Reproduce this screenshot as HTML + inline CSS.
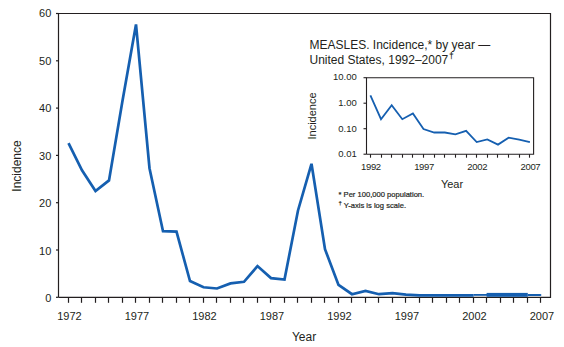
<!DOCTYPE html>
<html><head><meta charset="utf-8"><style>
html,body{margin:0;padding:0;background:#fff;}
body{width:564px;height:347px;overflow:hidden;}
svg{display:block;font-family:"Liberation Sans",sans-serif;fill:#231f20;}
</style></head><body>
<svg width="564" height="347" viewBox="0 0 564 347">
<polyline points="58.5,297.3 58.5,13.5 550.5,13.5 550.5,297.3 58.5,297.3" fill="none" stroke="#231f20" stroke-width="1.2"/>
<line x1="56.0" y1="297.3" x2="58.5" y2="297.3" stroke="#231f20" stroke-width="1.2"/>
<text x="51.3" y="302.1" text-anchor="end" font-size="11">0</text>
<line x1="56.0" y1="250.0" x2="58.5" y2="250.0" stroke="#231f20" stroke-width="1.2"/>
<text x="51.3" y="254.6" text-anchor="end" font-size="11">10</text>
<line x1="56.0" y1="202.7" x2="58.5" y2="202.7" stroke="#231f20" stroke-width="1.2"/>
<text x="51.3" y="207.1" text-anchor="end" font-size="11">20</text>
<line x1="56.0" y1="155.4" x2="58.5" y2="155.4" stroke="#231f20" stroke-width="1.2"/>
<text x="51.3" y="159.6" text-anchor="end" font-size="11">30</text>
<line x1="56.0" y1="108.1" x2="58.5" y2="108.1" stroke="#231f20" stroke-width="1.2"/>
<text x="51.3" y="112.0" text-anchor="end" font-size="11">40</text>
<line x1="56.0" y1="60.8" x2="58.5" y2="60.8" stroke="#231f20" stroke-width="1.2"/>
<text x="51.3" y="64.5" text-anchor="end" font-size="11">50</text>
<line x1="56.0" y1="13.5" x2="58.5" y2="13.5" stroke="#231f20" stroke-width="1.2"/>
<text x="51.3" y="17.0" text-anchor="end" font-size="11">60</text>
<line x1="68.5" y1="297.3" x2="68.5" y2="302.8" stroke="#231f20" stroke-width="1.2"/>
<line x1="81.5" y1="297.3" x2="81.5" y2="302.8" stroke="#231f20" stroke-width="1.2"/>
<line x1="95.5" y1="297.3" x2="95.5" y2="302.8" stroke="#231f20" stroke-width="1.2"/>
<line x1="108.5" y1="297.3" x2="108.5" y2="302.8" stroke="#231f20" stroke-width="1.2"/>
<line x1="122.5" y1="297.3" x2="122.5" y2="302.8" stroke="#231f20" stroke-width="1.2"/>
<line x1="135.5" y1="297.3" x2="135.5" y2="302.8" stroke="#231f20" stroke-width="1.2"/>
<line x1="149.5" y1="297.3" x2="149.5" y2="302.8" stroke="#231f20" stroke-width="1.2"/>
<line x1="162.5" y1="297.3" x2="162.5" y2="302.8" stroke="#231f20" stroke-width="1.2"/>
<line x1="176.5" y1="297.3" x2="176.5" y2="302.8" stroke="#231f20" stroke-width="1.2"/>
<line x1="189.5" y1="297.3" x2="189.5" y2="302.8" stroke="#231f20" stroke-width="1.2"/>
<line x1="203.5" y1="297.3" x2="203.5" y2="302.8" stroke="#231f20" stroke-width="1.2"/>
<line x1="216.5" y1="297.3" x2="216.5" y2="302.8" stroke="#231f20" stroke-width="1.2"/>
<line x1="230.5" y1="297.3" x2="230.5" y2="302.8" stroke="#231f20" stroke-width="1.2"/>
<line x1="243.5" y1="297.3" x2="243.5" y2="302.8" stroke="#231f20" stroke-width="1.2"/>
<line x1="257.5" y1="297.3" x2="257.5" y2="302.8" stroke="#231f20" stroke-width="1.2"/>
<line x1="270.5" y1="297.3" x2="270.5" y2="302.8" stroke="#231f20" stroke-width="1.2"/>
<line x1="284.5" y1="297.3" x2="284.5" y2="302.8" stroke="#231f20" stroke-width="1.2"/>
<line x1="297.5" y1="297.3" x2="297.5" y2="302.8" stroke="#231f20" stroke-width="1.2"/>
<line x1="311.5" y1="297.3" x2="311.5" y2="302.8" stroke="#231f20" stroke-width="1.2"/>
<line x1="324.5" y1="297.3" x2="324.5" y2="302.8" stroke="#231f20" stroke-width="1.2"/>
<line x1="338.5" y1="297.3" x2="338.5" y2="302.8" stroke="#231f20" stroke-width="1.2"/>
<line x1="351.5" y1="297.3" x2="351.5" y2="302.8" stroke="#231f20" stroke-width="1.2"/>
<line x1="365.5" y1="297.3" x2="365.5" y2="302.8" stroke="#231f20" stroke-width="1.2"/>
<line x1="378.5" y1="297.3" x2="378.5" y2="302.8" stroke="#231f20" stroke-width="1.2"/>
<line x1="392.5" y1="297.3" x2="392.5" y2="302.8" stroke="#231f20" stroke-width="1.2"/>
<line x1="405.5" y1="297.3" x2="405.5" y2="302.8" stroke="#231f20" stroke-width="1.2"/>
<line x1="419.5" y1="297.3" x2="419.5" y2="302.8" stroke="#231f20" stroke-width="1.2"/>
<line x1="432.5" y1="297.3" x2="432.5" y2="302.8" stroke="#231f20" stroke-width="1.2"/>
<line x1="446.5" y1="297.3" x2="446.5" y2="302.8" stroke="#231f20" stroke-width="1.2"/>
<line x1="459.5" y1="297.3" x2="459.5" y2="302.8" stroke="#231f20" stroke-width="1.2"/>
<line x1="473.5" y1="297.3" x2="473.5" y2="302.8" stroke="#231f20" stroke-width="1.2"/>
<line x1="486.5" y1="297.3" x2="486.5" y2="302.8" stroke="#231f20" stroke-width="1.2"/>
<line x1="500.5" y1="297.3" x2="500.5" y2="302.8" stroke="#231f20" stroke-width="1.2"/>
<line x1="513.5" y1="297.3" x2="513.5" y2="302.8" stroke="#231f20" stroke-width="1.2"/>
<line x1="527.5" y1="297.3" x2="527.5" y2="302.8" stroke="#231f20" stroke-width="1.2"/>
<line x1="540.5" y1="297.3" x2="540.5" y2="302.8" stroke="#231f20" stroke-width="1.2"/>
<text x="69.5" y="320" text-anchor="middle" font-size="11">1972</text>
<text x="137.0" y="320" text-anchor="middle" font-size="11">1977</text>
<text x="204.5" y="320" text-anchor="middle" font-size="11">1982</text>
<text x="272.0" y="320" text-anchor="middle" font-size="11">1987</text>
<text x="339.5" y="320" text-anchor="middle" font-size="11">1992</text>
<text x="407.0" y="320" text-anchor="middle" font-size="11">1997</text>
<text x="474.5" y="320" text-anchor="middle" font-size="11">2002</text>
<text x="542.0" y="320" text-anchor="middle" font-size="11">2007</text>
<polyline points="68.5,143.1 82.0,170.3 95.5,191.0 109.0,180.4 122.5,100.7 136.0,24.4 149.5,168.2 163.0,231.2 176.5,231.6 190.0,281.1 203.5,287.3 217.0,288.5 230.5,283.4 244.0,281.8 257.5,266.1 271.0,278.1 284.5,279.5 298.0,210.5 311.5,163.8 325.0,249.2 338.5,284.9 352.0,294.2 365.5,290.9 379.0,294.2 392.5,293.2 406.0,294.6 419.5,295.4 473.6,295.4" fill="none" stroke="#155fb0" stroke-width="2.7" stroke-linejoin="miter" stroke-miterlimit="3" stroke-linecap="butt"/>
<rect x="473.6" y="294.0" width="13.4" height="1.8" fill="#155fb0"/>
<rect x="486.6" y="292.9" width="41.2" height="3.9" fill="#155fb0"/>
<path d="M527.8,294 L540.6,294 L541.6,295 L540.6,296 L527.8,296 Z" fill="#155fb0"/>
<text x="304" y="341" text-anchor="middle" font-size="12">Year</text>
<text transform="translate(21,166) rotate(-90)" text-anchor="middle" font-size="12">Incidence</text>
<polyline points="366.5,154.2 366.5,77.7 533.6,77.7 533.6,154.2 366.5,154.2" fill="none" stroke="#231f20" stroke-width="1.1"/>
<line x1="363.5" y1="154.2" x2="366.5" y2="154.2" stroke="#231f20" stroke-width="1.1"/>
<text x="356.8" y="157.4" text-anchor="end" font-size="9.5">0.01</text>
<line x1="363.5" y1="128.7" x2="366.5" y2="128.7" stroke="#231f20" stroke-width="1.1"/>
<text x="356.8" y="131.9" text-anchor="end" font-size="9.5">0.10</text>
<line x1="363.5" y1="103.2" x2="366.5" y2="103.2" stroke="#231f20" stroke-width="1.1"/>
<text x="356.8" y="106.4" text-anchor="end" font-size="9.5">1.00</text>
<line x1="363.5" y1="77.7" x2="366.5" y2="77.7" stroke="#231f20" stroke-width="1.1"/>
<text x="356.8" y="79.6" text-anchor="end" font-size="9.5">10.00</text>
<line x1="370.5" y1="154.2" x2="370.5" y2="157.7" stroke="#231f20" stroke-width="1.1"/>
<line x1="381.5" y1="154.2" x2="381.5" y2="157.7" stroke="#231f20" stroke-width="1.1"/>
<line x1="391.5" y1="154.2" x2="391.5" y2="157.7" stroke="#231f20" stroke-width="1.1"/>
<line x1="402.5" y1="154.2" x2="402.5" y2="157.7" stroke="#231f20" stroke-width="1.1"/>
<line x1="412.5" y1="154.2" x2="412.5" y2="157.7" stroke="#231f20" stroke-width="1.1"/>
<line x1="423.5" y1="154.2" x2="423.5" y2="157.7" stroke="#231f20" stroke-width="1.1"/>
<line x1="434.5" y1="154.2" x2="434.5" y2="157.7" stroke="#231f20" stroke-width="1.1"/>
<line x1="444.5" y1="154.2" x2="444.5" y2="157.7" stroke="#231f20" stroke-width="1.1"/>
<line x1="455.5" y1="154.2" x2="455.5" y2="157.7" stroke="#231f20" stroke-width="1.1"/>
<line x1="466.5" y1="154.2" x2="466.5" y2="157.7" stroke="#231f20" stroke-width="1.1"/>
<line x1="476.5" y1="154.2" x2="476.5" y2="157.7" stroke="#231f20" stroke-width="1.1"/>
<line x1="487.5" y1="154.2" x2="487.5" y2="157.7" stroke="#231f20" stroke-width="1.1"/>
<line x1="497.5" y1="154.2" x2="497.5" y2="157.7" stroke="#231f20" stroke-width="1.1"/>
<line x1="508.5" y1="154.2" x2="508.5" y2="157.7" stroke="#231f20" stroke-width="1.1"/>
<line x1="519.5" y1="154.2" x2="519.5" y2="157.7" stroke="#231f20" stroke-width="1.1"/>
<line x1="529.5" y1="154.2" x2="529.5" y2="157.7" stroke="#231f20" stroke-width="1.1"/>
<text x="370.9" y="169.6" text-anchor="middle" font-size="9.5" letter-spacing="-0.35">1992</text>
<text x="424.0" y="169.6" text-anchor="middle" font-size="9.5" letter-spacing="-0.35">1997</text>
<text x="477.2" y="169.6" text-anchor="middle" font-size="9.5" letter-spacing="-0.35">2002</text>
<text x="530.4" y="169.6" text-anchor="middle" font-size="9.5" letter-spacing="-0.35">2007</text>
<polyline points="370.4,95.4 381.0,119.2 391.7,105.2 402.3,119.2 412.9,113.5 423.5,129.1 434.2,132.5 444.8,132.5 455.4,134.3 466.1,130.9 476.7,142.1 487.3,139.5 498.0,144.6 508.6,137.7 519.2,139.7 529.9,142.1" fill="none" stroke="#155fb0" stroke-width="1.8" stroke-linejoin="miter"/>
<text transform="translate(316,116) rotate(-90)" text-anchor="middle" font-size="11">Incidence</text>
<text x="452" y="188" text-anchor="middle" font-size="11">Year</text>
<text x="309.5" y="48.6" font-size="12">MEASLES. Incidence,* by year —</text>
<text x="309.5" y="63.7" font-size="12">United States, 1992–2007<tspan font-size="8.5" dx="0.6" dy="-5" font-weight="bold">†</tspan></text>
<text x="338.5" y="197" font-size="7.6" stroke="#231f20" stroke-width="0.2">* Per 100,000 population.</text>
<text x="338.5" y="207.9" font-size="7.6" stroke="#231f20" stroke-width="0.2"><tspan font-size="6" dy="-3">†</tspan><tspan dy="3"> Y-axis is log scale.</tspan></text>
</svg>
</body></html>
